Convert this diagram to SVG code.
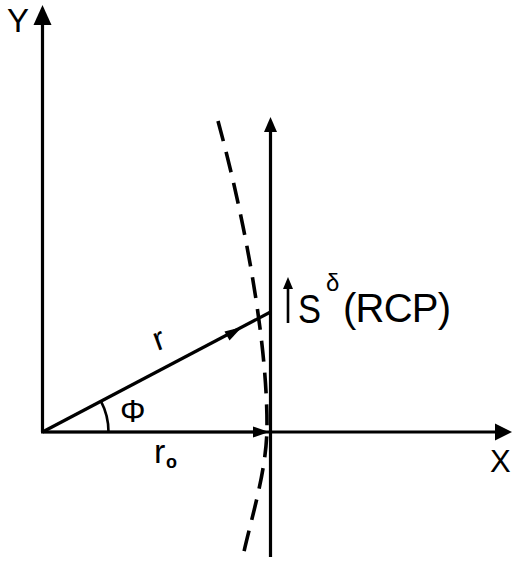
<svg xmlns="http://www.w3.org/2000/svg" width="512" height="561" viewBox="0 0 512 561">
<style>
.ln{stroke:#000;stroke-width:3.2;fill:none;stroke-linecap:butt}
.thin{stroke:#000;stroke-width:2.6;fill:none}
.dash{stroke:#000;stroke-width:3.6;fill:none;stroke-dasharray:21 11}
.hd{fill:#000;stroke:none}
.t{font-family:"Liberation Sans",Arial,sans-serif;fill:#000}
</style>
<rect width="512" height="561" fill="#fff"/>
<g id="axes">
<line class="ln" x1="42.5" y1="432" x2="42.5" y2="20"/>
<polygon class="hd" points="42.5,5 51.5,25 33.5,25"/>
<line class="ln" x1="41" y1="432" x2="500" y2="432"/>
<polygon class="hd" points="512,432 495,423.5 495,440.5"/>
</g>
<g id="vertical-line">
<line class="ln" x1="270.5" y1="557" x2="270.5" y2="128"/>
<polygon class="hd" points="270.5,117 277,132 264,132"/>
</g>
<g id="dashed-curve">
<path class="dash" d="M218,121 C245,220 267,340 267,425 C267,470 252,515 243,556"/>
</g>
<g id="connectors">
<line class="ln" x1="42.5" y1="432" x2="270.5" y2="312"/>
<polygon class="hd" points="242,327 224.5,331.5 229.5,340.5"/>
<line class="thin" x1="42.5" y1="432" x2="256" y2="432"/>
<polygon class="hd" points="269,432 253,426.5 253,437.5"/>
<path class="thin" d="M108.5,432 A66,66 0 0 0 100.9,401.2"/>
<line class="thin" x1="288" y1="323" x2="288" y2="286"/>
<polygon class="hd" points="288,277 293,289 283,289"/>
</g>
<g id="labels">
<text class="t" x="7" y="32" font-size="33">Y</text>
<text class="t" x="490" y="472" font-size="31">X</text>
<text class="t" x="154" y="349" font-size="33" transform="rotate(-20 161 341)">r</text>
<text class="t" x="120" y="422" font-size="32">Φ</text>
<text class="t" x="154" y="463" font-size="34">r</text>
<text class="t" x="166" y="468" font-size="18" font-weight="bold">o</text>
<text class="t" x="298" y="323" font-size="41" textLength="23" lengthAdjust="spacingAndGlyphs">S</text>
<text class="t" x="326" y="291" font-size="24">δ</text>
<text class="t" x="343" y="322" font-size="40" textLength="108" lengthAdjust="spacing">(RCP)</text>
</g>
</svg>
